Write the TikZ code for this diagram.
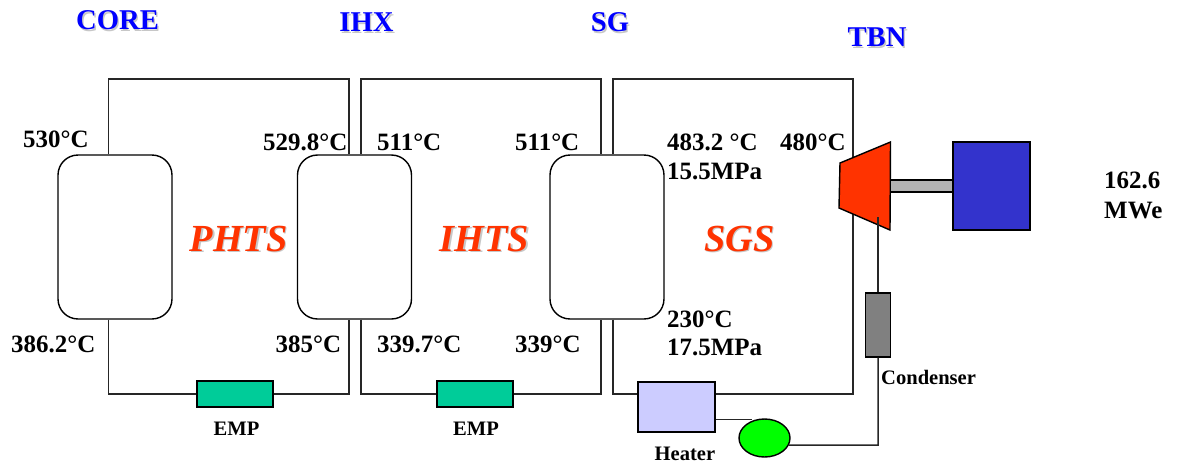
\documentclass[tikz,border=0pt]{standalone}
\usepackage{fontspec}
\setmainfont{Liberation Serif}
\usepackage{tikz}
\usetikzlibrary{shapes,arrows}
\definecolor{empgreen}{HTML}{00CC99}
\definecolor{heaterblue}{HTML}{CCCCFF}
\definecolor{genblue}{HTML}{3333CC}
\definecolor{tbnred}{HTML}{FF3300}
\definecolor{shaftgray}{HTML}{B2B2B2}
\newcommand{\shadowtext}[1]{\leavevmode\rlap{\kern0.8pt\raisebox{-0.8pt}{\color{black!22}#1}}#1}
\tikzset{
  temp/.style={anchor=base west, inner sep=0pt, font=\bfseries\fontsize{14.2}{14.2}\selectfont},
  small/.style={anchor=base west, inner sep=0pt, font=\bfseries\fontsize{11.7}{11.7}\selectfont},
  title/.style={inner sep=0pt, text=blue, font=\bfseries\fontsize{16.3}{16.3}\selectfont},
  loopname/.style={anchor=base west, inner sep=0pt, text=tbnred, font=\bfseries\itshape\fontsize{21.8}{21.8}\selectfont},
  vessel/.style={draw, fill=white, rectangle, rounded corners=0.4cm, inner sep=0pt, minimum width=2.28cm, minimum height=3.28cm},
  emp/.style={draw, fill=empgreen, inner sep=0pt, minimum width=1.52cm, minimum height=0.52cm},
  pipe/.style={draw, line width=0.85pt, black!85}
}

\begin{document}
\begin{tikzpicture}[x=0.02cm, y=-0.02cm, line width=0.8pt]
  \useasboundingbox (0,0) rectangle (1178,467);

  % Components
  \node[vessel] (core) at (115,237) {};
  \node[vessel] (ihx) at (354.5,237) {};
  \node[vessel] (sg) at (607,237) {};
  \node[emp] (emp1) at (235,394) {};
  \node[emp] (emp2) at (475,394) {};
  \node[draw, fill=heaterblue, inner sep=0pt, minimum width=1.54cm, minimum height=1cm] (heater) at (676.5,407) {};
  \node[draw, fill=green, ellipse, inner sep=0pt, minimum width=1.02cm, minimum height=0.76cm] (pump) at (764.5,438) {};
  \node[draw, fill=gray, inner sep=0pt, minimum width=0.5cm, minimum height=1.28cm] (condenser) at (878,325) {};
  \node[draw, fill=shaftgray, inner sep=0pt, minimum width=1.26cm, minimum height=0.24cm] (shaft) at (921.5,186) {};
  \node[draw, fill=genblue, inner sep=0pt, minimum width=1.54cm, minimum height=1.76cm] (generator) at (991.5,186) {};

  % Loop corners
  \coordinate (phtsTL) at (108.5,79);
  \coordinate (phtsTR) at (349,79);
  \coordinate (phtsBL) at (108.5,394);
  \coordinate (phtsBR) at (349,394);
  \coordinate (ihtsTL) at (361,79);
  \coordinate (ihtsTR) at (601,79);
  \coordinate (ihtsBL) at (361,394);
  \coordinate (ihtsBR) at (601,394);
  \coordinate (sgsTL) at (613,79);
  \coordinate (sgsTR) at (853,79);
  \coordinate (sgsBL) at (613,394);
  \coordinate (sgsBR) at (853,394);

  % PHTS
  \draw[pipe] (core.north -| phtsTL) -- (phtsTL) -- (phtsTR) -- (ihx.north -| phtsTR);
  \draw[pipe] (core.south -| phtsBL) -- (phtsBL) -- (emp1.west);
  \draw[pipe] (emp1.east) -- (phtsBR) -- (ihx.south -| phtsBR);

  % IHTS
  \draw[pipe] (ihx.north -| ihtsTL) -- (ihtsTL) -- (ihtsTR) -- (sg.north -| ihtsTR);
  \draw[pipe] (ihx.south -| ihtsBL) -- (ihtsBL) -- (emp2.west);
  \draw[pipe] (emp2.east) -- (ihtsBR) -- (sg.south -| ihtsBR);

  % SGS
  \draw[pipe] (sg.north -| sgsTL) -- (sgsTL) -- (sgsTR) -- (sgsBR) -- (heater.east |- sgsBR);
  \draw[pipe] (sg.south -| sgsBL) -- (sgsBL) -- (heater.west |- sgsBL);

  % Turbine
  \coordinate (tbnA) at (840,163);
  \coordinate (tbnB) at (890.5,142);
  \coordinate (tbnC) at (890,230);
  \coordinate (tbnD) at (839,208);
  \coordinate (tbnOut) at (878,217);
  \draw[fill=tbnred] (tbnA) -- (tbnB) -- (tbnC) -- (tbnD) -- cycle;

  % Condensate line
  \coordinate (feedIn) at (752,419.5);
  \coordinate (feedOut) at (878,445);
  \draw[pipe] (tbnOut) -- (condenser.north);
  \draw[pipe] (condenser.south) -- (feedOut) -- (pump.-16.5);
  \draw[pipe] (heater.east |- feedIn) -- (feedIn);

  % Titles
  \node[title] (coretitle) at (117.5,21) {\shadowtext{CORE}};
  \node[title] (ihxtitle) at (366.5,23) {\shadowtext{IHX}};
  \node[title] (sgtitle) at (610,23) {\shadowtext{SG}};
  \node[title] (tbntitle) at (877,38) {\shadowtext{TBN}};

  % Loop names
  \node[loopname] (phtsname) at (189,251) {\shadowtext{PHTS}};
  \node[loopname] (ihtsname) at (439,251) {\shadowtext{IHTS}};
  \node[loopname] (sgsname) at (703.5,251) {\shadowtext{SGS}};

  % Temperatures
  \node[temp] (t1) at (22.5,147) {530°C};
  \node[temp] (t2) at (262.5,150) {529.8°C};
  \node[temp] (t3) at (376.5,150) {511°C};
  \node[temp] (t4) at (514.5,150) {511°C};
  \node[temp] (t5) at (666.5,150) {483.2 °C};
  \node[temp] (p5) at (666.5,179) {15.5MPa};
  \node[temp] (t6) at (779.5,150) {480°C};
  \node[temp] (t7) at (10.5,352) {386.2°C};
  \node[temp] (t8) at (275,352) {385°C};
  \node[temp] (t9) at (376.5,352) {339.7°C};
  \node[temp] (t10) at (514.5,352) {339°C};
  \node[temp] (t11) at (666.5,327) {230°C};
  \node[temp] (p11) at (666.5,355) {17.5MPa};
  \node[temp] (power) at (1103.5,188) {162.6};
  \node[temp] (unit) at (1103.5,218) {MWe};

  % Component names
  \node[small] (emp1name) at (213,435) {EMP};
  \node[small] (emp2name) at (452.5,435) {EMP};
  \node[small] (heatername) at (654,460) {Heater};
  \node[small] (condensername) at (880.5,384) {Condenser};
\end{tikzpicture}
\end{document}
